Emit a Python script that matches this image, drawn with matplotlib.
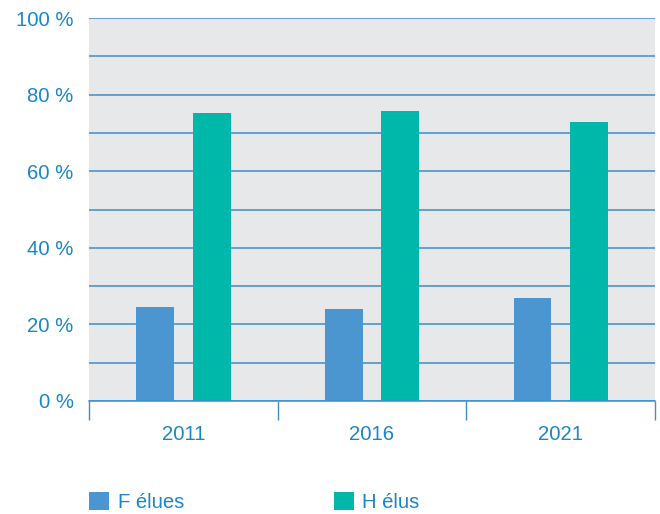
import matplotlib
matplotlib.use("Agg")
import matplotlib.pyplot as plt
import numpy as np
from matplotlib.patches import Patch

years = ["2011", "2016", "2021"]
f_elues = [24.5, 24.0, 26.9]
h_elus = [75.2, 75.7, 72.8]
series_labels = ["F élues", "H élus"]
y_ticks = [0, 20, 40, 60, 80, 100]

TEXT = "#1a86c8"
BLUE = "#4b96d1"
TEAL = "#00b8aa"
BG = "#e7e8ea"
GRID = "#3d8fc9"
FS = 14.6

plt.rcParams["font.family"] = ["Liberation Sans", "DejaVu Sans"]

fig = plt.figure(figsize=(6.6, 5.14), dpi=100)
ax = fig.add_axes([89/660, (514-401)/514, (655-89)/660, (401-18)/514])
ax.set_facecolor(BG)

x = np.arange(len(years))
ax.bar(x - 0.15, f_elues, width=0.2, color=BLUE, zorder=3)
ax.bar(x + 0.15, h_elus, width=0.2, color=TEAL, zorder=3)

ax.set_xlim(-0.5, len(years) - 0.5)
ax.set_ylim(0, 100)

ax.set_yticks(y_ticks)
ax.set_yticklabels([f"{v} %" for v in y_ticks], color=TEXT, fontsize=FS)
ax.set_yticks(np.arange(10, 100, 10), minor=True)
ax.tick_params(axis="y", which="both", length=0, pad=11)
ax.grid(axis="y", which="both", color=GRID, linewidth=1.1, zorder=1)

ax.set_xticks(x)
ax.set_xticklabels(years, color=TEXT, fontsize=FS)
ax.set_xticks(np.arange(-0.5, len(years), 1), minor=True)
ax.tick_params(axis="x", which="major", length=0, pad=17)
ax.tick_params(axis="x", which="minor", length=14, width=1, color=GRID, direction="out")

for s in ["top", "right", "left"]:
    ax.spines[s].set_visible(False)
ax.spines["bottom"].set_color(GRID)
ax.spines["bottom"].set_linewidth(1.1)
ax.spines["bottom"].set_zorder(4)

handles = [Patch(facecolor=BLUE, edgecolor="none"), Patch(facecolor=TEAL, edgecolor="none")]
leg = fig.legend(handles, series_labels, loc="lower left", bbox_to_anchor=(81/660, -0.012),
                 ncol=2, frameon=False, fontsize=FS, handlelength=1.0, handleheight=1.0,
                 handletextpad=0.4, columnspacing=7.4, borderaxespad=0)
for t in leg.get_texts():
    t.set_color(TEXT)

fig.savefig("out.png", dpi=100)
